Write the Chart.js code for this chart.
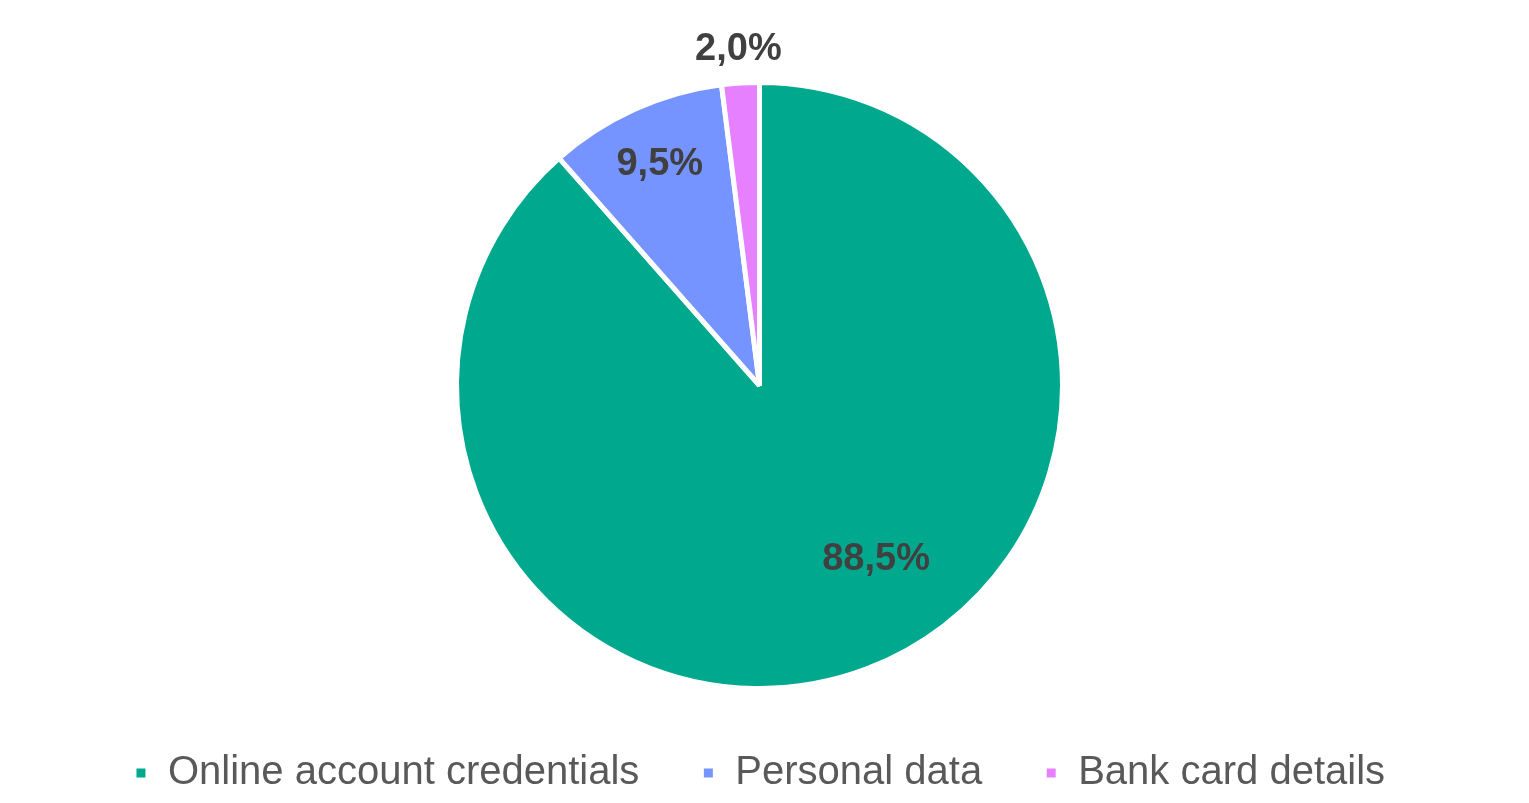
<!DOCTYPE html>
<html>
<head>
<meta charset="utf-8">
<script src="https://cdn.jsdelivr.net/npm/chart.js@4"></script>
<style>
  html, body { margin: 0; padding: 0; background: #fff; }
  #wrap { width: 1529px; height: 803px; }
</style>
</head>
<body>
<div id="wrap"><canvas id="pie"></canvas></div>
<script>
// data
const categories = ["Online account credentials", "Personal data", "Bank card details"];
const shares = [88.5, 9.5, 2.0];
const sliceColors = ["#00A88E", "#7594FF", "#E680FF"];
// label placement: fraction of radius, and angle nudge in radians
const labelRadius = [0.69, 0.8, 1.11];
const labelAngleNudge = [-0.23, 0, 0];

const fmt = v => v.toFixed(1).replace(".", ",") + "%";

const sliceLabels = {
    id: "sliceLabels",
    afterDatasetsDraw(chart) {
        const ctx = chart.ctx;
        const meta = chart.getDatasetMeta(0);
        ctx.save();
        ctx.font = "bold 38px 'Liberation Sans', Arial, sans-serif";
        ctx.fillStyle = "#404040";
        ctx.textAlign = "center";
        ctx.textBaseline = "middle";
        meta.data.forEach((arc, i) => {
            const p = arc.getProps(["x", "y", "startAngle", "endAngle", "outerRadius"], true);
            const mid = (p.startAngle + p.endAngle) / 2 + labelAngleNudge[i];
            const r = p.outerRadius * labelRadius[i];
            ctx.fillText(fmt(shares[i]), p.x + Math.cos(mid) * r, p.y + Math.sin(mid) * r);
        });
        ctx.restore();
    }
};

new Chart(document.getElementById("pie"), {
    type: "pie",
    data: {
        labels: categories,
        datasets: [{
            data: shares,
            backgroundColor: sliceColors,
            borderColor: "#ffffff",
            borderWidth: 5
        }]
    },
    options: {
        responsive: true,
        maintainAspectRatio: false,
        animation: false,
        layout: { padding: { top: 80, bottom: 0, right: 10 } },
        plugins: {
            legend: {
                position: "bottom",
                labels: {
                    font: { size: 40, family: "'Liberation Sans', Arial, sans-serif" },
                    color: "#595959",
                    boxWidth: 14,
                    boxHeight: 14,
                    padding: 62
                }
            },
            tooltip: { enabled: false }
        }
    },
    plugins: [sliceLabels]
});
</script>
</body>
</html>
